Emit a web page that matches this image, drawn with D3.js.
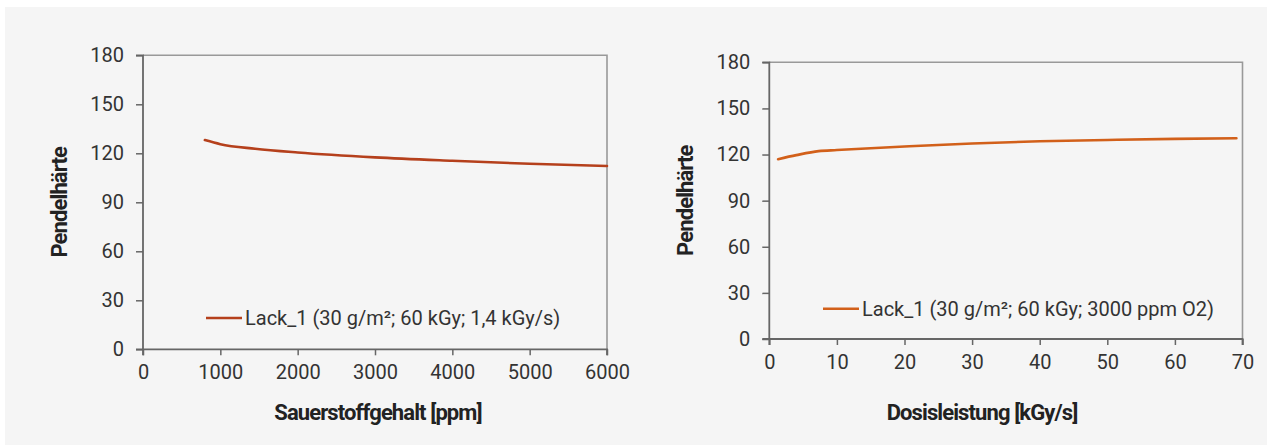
<!DOCTYPE html>
<html>
<head>
<meta charset="utf-8">
<script src="https://cdn.jsdelivr.net/npm/d3@7"></script>
<style>
  body { margin: 0; background: #ffffff; }
  svg { display: block; font-family: Roboto, "Noto Sans", sans-serif; }
  .tick text { font-size: 20px; fill: #333; }
  .axis-title { font-size: 22px; font-weight: bold; fill: #222; letter-spacing: -0.9px; }
  .legend { font-size: 20px; fill: #333; }
</style>
</head>
<body>
<div id="chart"></div>
<script>
// left panel: Pendelhärte vs oxygen content
const o2Ppm    = [800, 1000, 1450, 2000, 3000, 4000, 5000, 6000];
const o2Hard   = [128.1, 125.6, 122.8, 120.5, 117.5, 115.4, 113.6, 112.2];
const o2Ticks  = [0, 1000, 2000, 3000, 4000, 5000, 6000];
const o2Label  = "Lack_1 (30 g/m²; 60 kGy; 1,4 kGy/s)";

// right panel: Pendelhärte vs dose rate
const doseRate = [1.3, 4, 7.3, 10, 20, 30, 40, 50, 60, 69.1];
const doseHard = [117.0, 119.6, 122.2, 122.9, 125.2, 127.2, 128.6, 129.5, 130.2, 130.6];
const doseTicks = [0, 10, 20, 30, 40, 50, 60, 70];
const doseLabel = "Lack_1 (30 g/m²; 60 kGy; 3000 ppm O2)";

const yTicks = [0, 30, 60, 90, 120, 150, 180];

const W = 1267, H = 445;

const svg = d3.select("#chart").append("svg")
    .attr("width", W)
    .attr("height", H);

// light grey page panel
svg.append("rect")
    .attr("x", 5).attr("y", 7)
    .attr("width", W - 5).attr("height", H - 7)
    .attr("fill", "#f5f5f5");

function drawPanel(p) {
  const x = d3.scaleLinear().domain(p.xDomain).range([p.left, p.right]);
  const y = d3.scaleLinear().domain([0, 180]).range([p.bottom, p.top]);

  const g = svg.append("g");

  // frame (top + right)
  g.append("path")
      .attr("d", "M" + p.left + "," + p.top + "H" + p.right + "V" + p.bottom)
      .attr("fill", "none")
      .attr("stroke", "#999")
      .attr("stroke-width", 1.6);

  const xAxis = g.append("g")
      .attr("transform", "translate(0," + p.bottom + ")")
      .call(d3.axisBottom(x).tickValues(p.xTicks).tickSize(6).tickPadding(10).tickFormat(d3.format("d")));
  const yAxis = g.append("g")
      .attr("transform", "translate(" + p.left + ",0)")
      .call(d3.axisLeft(y).tickValues(yTicks).tickSize(7).tickPadding(12));

  [xAxis, yAxis].forEach(a => {
    a.select(".domain").attr("stroke", "#666").attr("stroke-width", 1.8);
    a.selectAll(".tick line").attr("stroke", "#666").attr("stroke-width", 1.5);
    a.selectAll(".tick text").attr("font-family", "Roboto, sans-serif");
  });
  xAxis.selectAll(".domain").attr("d", "M" + p.left + ",6V0H" + p.right + "V6");
  yAxis.selectAll(".domain").attr("d", "M-7," + p.top + "H0V" + p.bottom + "H-7");

  const line = d3.line()
      .x((d, i) => x(p.xs[i]))
      .y(d => y(d))
      .curve(d3.curveMonotoneX);

  g.append("path")
      .datum(p.ys)
      .attr("d", line)
      .attr("fill", "none")
      .attr("stroke", p.color)
      .attr("stroke-width", 2.6)
      .attr("stroke-linecap", "round");

  // legend
  g.append("line")
      .attr("x1", p.legX).attr("x2", p.legX + 36)
      .attr("y1", p.legY).attr("y2", p.legY)
      .attr("stroke", p.color)
      .attr("stroke-width", 2.6);
  g.append("text")
      .attr("class", "legend")
      .attr("x", p.legX + 39)
      .attr("y", p.legY)
      .attr("dy", "0.35em")
      .text(p.label);

  // axis titles
  g.append("text")
      .attr("class", "axis-title")
      .attr("x", p.xTitleX)
      .attr("y", 420)
      .attr("text-anchor", "middle")
      .text(p.xTitle);
  g.append("text")
      .attr("class", "axis-title")
      .attr("transform", "translate(" + p.yTitleX + "," + ((p.top + p.bottom) / 2) + ") rotate(-90)")
      .attr("text-anchor", "middle")
      .text("Pendelhärte");
}

drawPanel({
  xs: o2Ppm, ys: o2Hard, xDomain: [0, 6000], xTicks: o2Ticks,
  left: 143, right: 607, top: 55.3, bottom: 349.3,
  color: "#b5401c", label: o2Label, legX: 206, legY: 318,
  xTitle: "Sauerstoffgehalt [ppm]", xTitleX: 378, yTitleX: 67
});

drawPanel({
  xs: doseRate, ys: doseHard, xDomain: [0, 70], xTicks: doseTicks,
  left: 769.3, right: 1242.5, top: 62.3, bottom: 339,
  color: "#d2601a", label: doseLabel, legX: 823, legY: 308.7,
  xTitle: "Dosisleistung [kGy/s]", xTitleX: 982, yTitleX: 693
});
</script>
</body>
</html>
